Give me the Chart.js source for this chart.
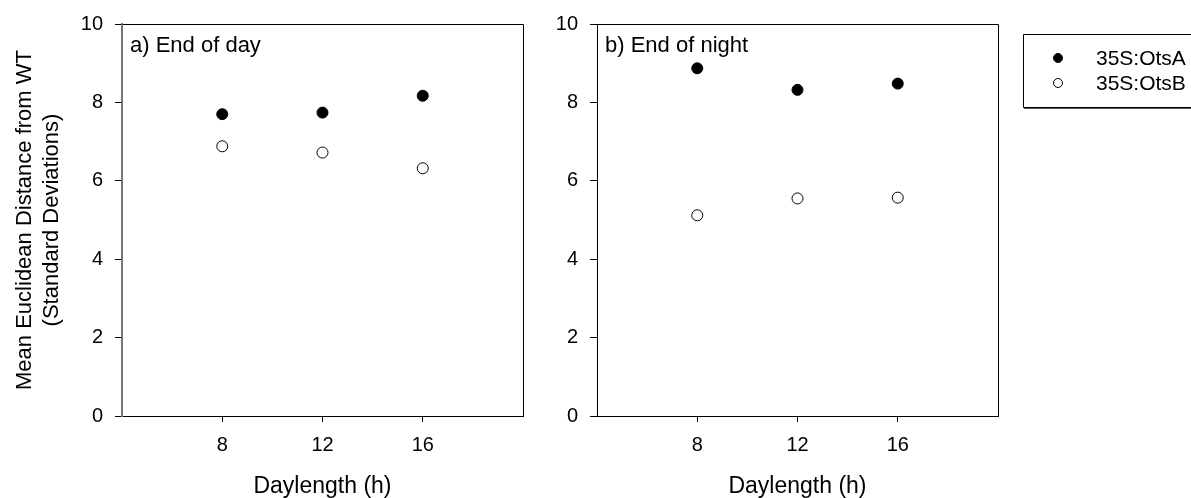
<!DOCTYPE html>
<html>
<head>
<meta charset="utf-8">
<script src="https://cdn.jsdelivr.net/npm/chart.js@4.4.1/dist/chart.umd.min.js"></script>
<style>
  html, body { margin: 0; padding: 0; background: #fff; }
  #wrap { position: relative; width: 1191px; height: 498px; overflow: hidden; }
  canvas { position: absolute; top: 0; }
  #leftChart { left: 0; }
  #rightChart { left: 535px; }
</style>
</head>
<body>
<div id="wrap">
  <canvas id="leftChart" width="535" height="498"></canvas>
  <canvas id="rightChart" width="656" height="498"></canvas>
</div>
<script>
// Daylength treatments (h) and tick positions
const daylengths = [8, 12, 16];
const xTicks = [8, 12, 16];

// Series names
const seriesNames = ["35S:OtsA", "35S:OtsB"];

// a) End of day
const otsA_endOfDay = [7.70, 7.74, 8.17];
const otsB_endOfDay = [6.88, 6.72, 6.32];

// b) End of night
const otsA_endOfNight = [8.87, 8.32, 8.48];
const otsB_endOfNight = [5.12, 5.55, 5.57];

const FONT = "'Liberation Sans', Arial, Helvetica, sans-serif";

function toPoints(values) {
  return daylengths.map((d, i) => ({ x: d, y: values[i] }));
}

function makeDatasets(aVals, bVals) {
  return [
    {
      label: seriesNames[0],
      data: toPoints(aVals),
      showLine: false,
      pointRadius: 5.5,
      pointBorderWidth: 1,
      pointBackgroundColor: "#000",
      pointBorderColor: "#000"
    },
    {
      label: seriesNames[1],
      data: toPoints(bVals),
      showLine: false,
      pointRadius: 5.5,
      pointBorderWidth: 1,
      pointBackgroundColor: "#fff",
      pointBorderColor: "#000"
    }
  ];
}

function alignPx(v) {
  return Math.round(v - 0.5) + 0.5;
}

// box around the plot area + panel caption
const panelFrame = {
  id: "panelFrame",
  afterDraw(chart, args, opts) {
    const { ctx, chartArea: a } = chart;
    ctx.save();
    ctx.strokeStyle = "#000";
    ctx.lineWidth = 1;
    ctx.beginPath();
    ctx.moveTo(alignPx(a.left), alignPx(a.top));
    ctx.lineTo(alignPx(a.right), alignPx(a.top));
    ctx.lineTo(alignPx(a.right), alignPx(a.bottom));
    ctx.stroke();
    ctx.fillStyle = "#000";
    ctx.font = "22px " + FONT;
    ctx.textBaseline = "alphabetic";
    ctx.textAlign = "left";
    ctx.fillText(opts.caption, a.left + 8, a.top + 28);
    ctx.restore();
  }
};

// boxed legend to the right of the second panel
const sideLegend = {
  id: "sideLegend",
  afterDraw(chart, args, opts) {
    if (!opts.show) return;
    const { ctx } = chart;
    const x0 = opts.x, y0 = opts.y;
    ctx.save();
    ctx.strokeStyle = "#000";
    ctx.lineWidth = 1;
    ctx.beginPath();
    ctx.moveTo(chart.width + 5, y0 + 0.5);
    ctx.lineTo(x0 + 0.5, y0 + 0.5);
    ctx.lineTo(x0 + 0.5, y0 + 73.5);
    ctx.lineTo(chart.width + 5, y0 + 73.5);
    ctx.stroke();
    ctx.strokeStyle = "#555";
    ctx.beginPath();
    ctx.moveTo(x0 + 1, y0 + 74.5);
    ctx.lineTo(chart.width + 5, y0 + 74.5);
    ctx.stroke();
    ctx.font = "21px " + FONT;
    ctx.textBaseline = "middle";
    ctx.textAlign = "left";
    chart.data.datasets.forEach((ds, i) => {
      const cy = y0 + 24 + i * 25;
      ctx.beginPath();
      ctx.arc(x0 + 35, cy, 4.5, 0, Math.PI * 2);
      ctx.fillStyle = ds.pointBackgroundColor;
      ctx.fill();
      ctx.strokeStyle = ds.pointBorderColor;
      ctx.stroke();
      ctx.fillStyle = "#000";
      ctx.fillText(ds.label, x0 + 73, cy + 1);
    });
    ctx.restore();
  }
};

function makeChart(canvasId, datasets, caption, yAxisWidth, padRight, withTitle, withLegend, yBorderColor, yBorderWidth) {
  return new Chart(document.getElementById(canvasId), {
    type: "scatter",
    data: { datasets },
    plugins: [panelFrame, sideLegend],
    options: {
      responsive: false,
      animation: false,
      devicePixelRatio: 1,
      layout: { padding: { top: 22, right: padRight, bottom: 0, left: 0 } },
      plugins: {
        legend: { display: false },
        tooltip: { enabled: false },
        panelFrame: { caption },
        sideLegend: { show: withLegend, x: 1023 - 535, y: 34 }
      },
      scales: {
        x: {
          type: "linear",
          min: 4,
          max: 20,
          afterBuildTicks: s => { s.ticks = xTicks.map(v => ({ value: v })); },
          afterFit: s => { s.height = 82; },
          grid: { drawOnChartArea: false, tickLength: 6, tickColor: "#000" },
          border: { display: true, color: "#000", width: 1 },
          ticks: { color: "#000", padding: 11, font: { family: FONT, size: 20 } },
          title: {
            display: true,
            text: "Daylength (h)",
            color: "#000",
            padding: { top: 0, bottom: 0 },
            font: { family: FONT, size: 23, lineHeight: 1 }
          }
        },
        y: {
          min: 0,
          max: 10,
          afterFit: s => { s.width = yAxisWidth; },
          grid: { drawOnChartArea: false, tickLength: 7, tickColor: "#000" },
          border: { display: true, color: yBorderColor, width: yBorderWidth },
          ticks: { stepSize: 2, color: "#000", padding: 12, font: { family: FONT, size: 20 } },
          title: {
            display: withTitle,
            text: ["Mean Euclidean Distance from WT", "(Standard Deviations)"],
            color: "#000",
            padding: { top: 12, bottom: 0 },
            font: { family: FONT, size: 22, lineHeight: 1.2 }
          }
        }
      }
    }
  });
}

// left panel: plot area 122..523 px; right panel: 597..998 px
makeChart("leftChart", makeDatasets(otsA_endOfDay, otsB_endOfDay), "a) End of day",
  122, 535 - 523, true, false, "#777", 2);
makeChart("rightChart", makeDatasets(otsA_endOfNight, otsB_endOfNight), "b) End of night",
  597 - 535, 1191 - 998, false, true, "#000", 1);
</script>
</body>
</html>
